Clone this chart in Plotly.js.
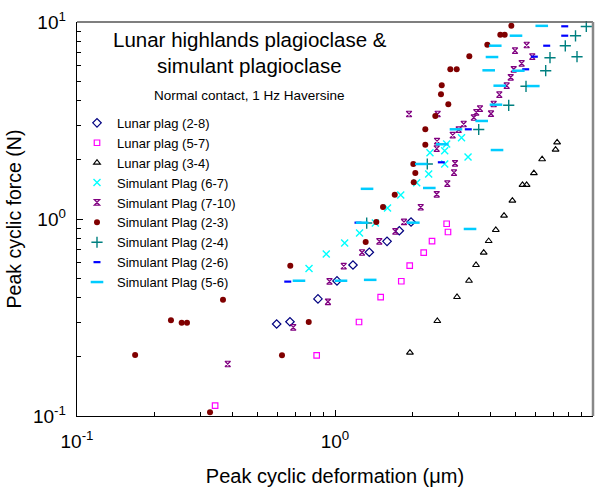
<!DOCTYPE html>
<html><head><meta charset="utf-8">
<script src="https://cdn.plot.ly/plotly-3.0.1.min.js"></script>
<style>html,body{margin:0;padding:0;background:#fff;}#chart{width:598px;height:491px;}</style>
</head><body><div id="chart"></div>
<script>
// Lunar plag (2-8)
const lp28_x = [0.594, 0.669, 0.859, 1.018, 1.174, 1.358, 1.591, 1.775, 1.971];
const lp28_y = [0.293, 0.301, 0.393, 0.485, 0.584, 0.678, 0.770, 0.872, 0.966];
// Lunar plag (5-7)
const lp57_x = [0.343, 0.849, 1.239, 1.503, 1.807, 1.948, 2.207, 2.377, 2.741, 2.709];
const lp57_y = [0.1128, 0.203, 0.300, 0.401, 0.483, 0.580, 0.675, 0.773, 0.859, 0.946];
// Lunar plag (3-4)
const lp34_x = [1.952, 2.492, 2.971, 3.307, 3.520, 3.770, 3.942, 4.20, 4.52, 4.87, 5.33, 5.53, 5.90, 6.35, 7.16, 7.26];
const lp34_y = [0.2097, 0.3035, 0.402, 0.486, 0.584, 0.675, 0.773, 0.88, 1.04, 1.24, 1.49, 1.49, 1.71, 2.01, 2.25, 2.45];
// Simulant Plag (6-7)
const sp67_x = [0.793, 0.925, 1.090, 1.245, 1.433, 1.598, 1.798, 2.073, 2.307, 2.334, 2.662, 2.709, 2.662, 3.093, 3.278];
const sp67_y = [0.560, 0.664, 0.755, 0.849, 0.954, 1.137, 1.324, 1.528, 1.692, 2.171, 2.222, 2.402, 1.902, 2.586, 2.064];
// Simulant Plag (7-10)
const sp710_x = [0.384, 0.689, 0.939, 0.952, 1.081, 1.273, 1.485, 1.713, 1.851, 2.149, 2.479, 2.725, 2.893, 2.919, 2.479, 2.486, 1.936, 2.500, 2.859, 3.016, 3.154, 3.451, 3.529, 3.648, 4.024, 4.122, 4.334, 4.629, 4.798, 4.928, 5.291, 5.817, 4.986, 5.534];
const sp710_y = [0.1836, 0.282, 0.380, 0.482, 0.577, 0.676, 0.770, 0.866, 0.966, 1.147, 1.335, 1.511, 1.718, 1.918, 2.275, 2.483, 3.412, 3.412, 2.664, 2.840, 3.035, 3.275, 3.480, 3.630, 3.423, 3.836, 4.276, 4.750, 5.241, 5.754, 6.171, 6.667, 7.151, 7.642];
// Simulant Plag (2-3)
const sp23_x = [0.168, 0.2313, 0.2545, 0.2669, 0.368, 0.3278, 0.623, 0.671, 0.791, 1.315, 1.446, 1.535, 1.704, 2.019, 2.048, 2.012, 2.239, 2.239, 2.448, 2.749, 2.575, 2.592, 2.799, 2.963, 3.316, 3.894, 4.372, 4.547, 4.824];
const sp23_y = [0.204, 0.306, 0.2976, 0.2976, 0.3894, 0.1044, 0.2035, 0.579, 0.300, 0.764, 0.966, 1.151, 1.328, 1.536, 1.712, 1.902, 2.384, 2.853, 3.333, 3.826, 4.296, 4.772, 5.754, 5.754, 6.697, 7.670, 8.620, 8.620, 9.576];
// Simulant Plag (2-4)
const sp24_x = [1.327, 2.279, 3.606, 4.713, 5.500, 6.556, 6.813, 8.670, 7.809, 8.555, 9.42];
const sp24_y = [0.954, 1.902, 2.847, 3.777, 4.717, 5.659, 6.589, 6.667, 7.571, 8.511, 9.488];
// Simulant Plag (2-6)
const sp26_x = [0.656, 1.228, 2.583, 3.286, 5.484, 5.923, 6.615, 7.77, 7.77];
const sp26_y = [0.481, 0.958, 1.94, 2.853, 5.754, 6.667, 7.58, 8.52, 9.51];
// Simulant Plag (5-6)
const sp56_x = [0.725, 1.055, 1.369, 1.331, 1.273, 2.012, 2.32, 2.16, 2.606, 2.944, 3.704, 4.207, 4.35, 5.87, 3.942, 4.06, 4.18, 5.03, 6.33, 3.337, 4.246, 5.135];
const sp56_y = [0.486, 0.486, 0.491, 1.423, 0.958, 0.958, 1.437, 1.902, 2.395, 2.853, 3.145, 3.804, 4.750, 4.73, 5.685, 6.64, 7.58, 8.52, 9.56, 0.890, 2.239, 5.659];

const names = ['Lunar plag (2-8)', 'Lunar plag (5-7)', 'Lunar plag (3-4)', 'Simulant Plag (6-7)', 'Simulant Plag (7-10)', 'Simulant Plag (2-3)', 'Simulant Plag (2-4)', 'Simulant Plag (2-6)', 'Simulant Plag (5-6)'];

const styles = [
  {symbol:'diamond-open', color:'#000080', size:6.5, lw:1.2},
  {symbol:'square-open', color:'#FF00FF', size:5.5, lw:1.2},
  {symbol:'triangle-up-open', color:'#000000', size:6, lw:1.1},
  {symbol:'x-thin-open', color:'#00FFFF', size:7, lw:1.4},
  {symbol:'hourglass-open', color:'#800080', size:5.5, lw:1.2},
  {symbol:'circle', color:'#800000', size:6, lw:0},
  {symbol:'cross-thin-open', color:'#008080', size:8, lw:1.4},
  {symbol:'line-ew-open', color:'#0000FF', size:5, lw:2.2},
  {symbol:'line-ew-open', color:'#00CCFF', size:9, lw:2.5}
];
const xs = [lp28_x, lp57_x, lp34_x, sp67_x, sp710_x, sp23_x, sp24_x, sp26_x, sp56_x];
const ys = [lp28_y, lp57_y, lp34_y, sp67_y, sp710_y, sp23_y, sp24_y, sp26_y, sp56_y];

const traces = names.map((n, i) => ({
  type:'scatter', mode:'markers', name:n, x:xs[i], y:ys[i],
  marker:{symbol:styles[i].symbol, color:styles[i].color, size:styles[i].size,
          line:{color:styles[i].color, width:styles[i].lw}},
  cliponaxis:false
}));

const minorVals = [0.2,0.3,0.4,0.5,0.6,0.7,0.8,0.9,2,3,4,5,6,7,8,9];
const axisCommon = {
  type:'log', showgrid:false, zeroline:false,
  showline:true, linecolor:'#000', linewidth:1.3, mirror:false,
  ticks:'inside', ticklen:6, tickwidth:1, tickcolor:'#000',
  tickvals:[0.1,1,10], ticktext:['10<sup>-1</sup>','10<sup>0</sup>','10<sup>1</sup>'],
  tickfont:{family:'Arial, Liberation Sans, sans-serif', size:19, color:'#000'},
  minor:{tickvals:minorVals, ticks:'inside', ticklen:4, tickwidth:1, tickcolor:'#000'}
};

const layout = {
  width:598, height:491,
  margin:{l:77, r:5, t:22, b:75},
  paper_bgcolor:'#fff', plot_bgcolor:'#fff',
  font:{family:'Arial, Liberation Sans, sans-serif', color:'#000'},
  xaxis:Object.assign({}, axisCommon, {range:[-1,1], ticklabelstandoff:8,
    title:{text:'Peak cyclic deformation (\u03bcm)', font:{size:20}, standoff:18}}),
  yaxis:Object.assign({}, axisCommon, {range:[-1,1], ticklabelstandoff:6,
    title:{text:'Peak cyclic force (N)', font:{size:19.5}, standoff:6}}),
  showlegend:true,
  legend:{x:0.0, y:0.782, xanchor:'left', yanchor:'top', bgcolor:'rgba(0,0,0,0)',
          font:{size:13, family:'Arial, Liberation Sans, sans-serif'}, itemsizing:'trace', tracegroupgap:0},
  annotations:[
    {xref:'paper', yref:'paper', x:0.335, y:0.956, yanchor:'middle', xanchor:'center', text:'Lunar highlands plagioclase &', showarrow:false, font:{size:20.5}},
    {xref:'paper', yref:'paper', x:0.335, y:0.889, yanchor:'middle', xanchor:'center', text:'simulant plagioclase', showarrow:false, font:{size:20.5}},
    {xref:'paper', yref:'paper', x:0.335, y:0.814, yanchor:'middle', xanchor:'center', text:'Normal contact, 1 Hz Haversine', showarrow:false, font:{size:13.5}}
  ],
  shapes:[
    {type:'line', xref:'paper', yref:'paper', x0:0, x1:1, y0:1, y1:1, line:{color:'#555', width:1.3}},
    {type:'line', xref:'paper', yref:'paper', x0:1, x1:1, y0:0, y1:1, line:{color:'#888', width:2.5}}
  ]
};

Plotly.newPlot('chart', traces, layout, {displayModeBar:false, staticPlot:true});
</script></body></html>
